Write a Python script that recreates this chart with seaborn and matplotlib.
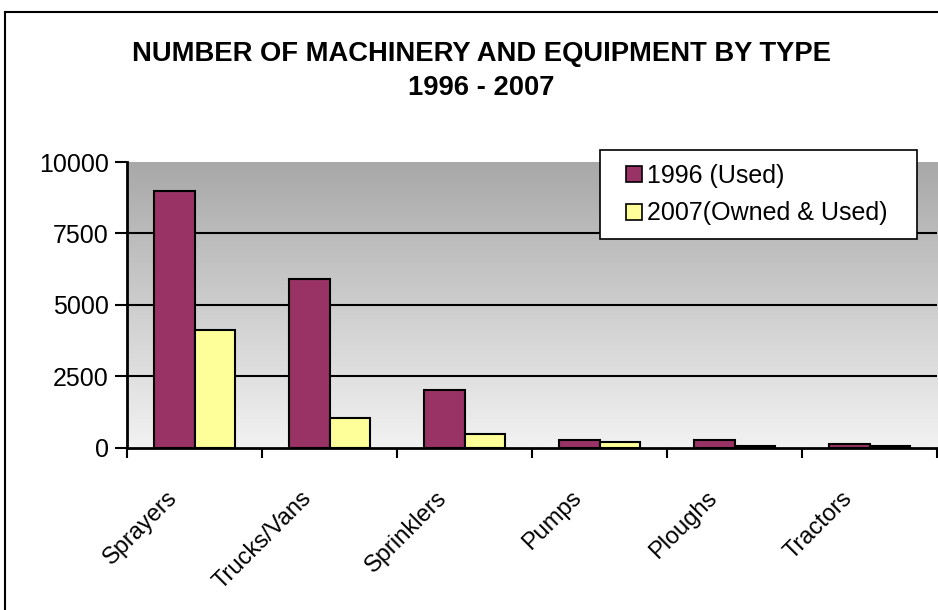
import numpy as np
import pandas as pd
import matplotlib
matplotlib.use("Agg")
import matplotlib.pyplot as plt
import matplotlib.transforms as mtransforms
from matplotlib.colors import LinearSegmentedColormap
from matplotlib.patches import Rectangle, Patch
from matplotlib.legend_handler import HandlerPatch
import seaborn as sns

categories = ["Sprayers", "Trucks/Vans", "Sprinklers", "Pumps", "Ploughs", "Tractors"]
series_names = ["1996 (Used)", "2007(Owned & Used)"]
values_1996 = [9000, 5900, 2000, 270, 270, 130]
values_2007 = [4100, 1030, 490, 200, 60, 50]
y_ticks = [0, 2500, 5000, 7500, 10000]
title_lines = ["NUMBER OF MACHINERY AND EQUIPMENT BY TYPE", "1996 - 2007"]

colors = ["#993366", "#FFFF99"]

df = pd.DataFrame({
    "type": categories * 2,
    "series": [series_names[0]] * len(categories) + [series_names[1]] * len(categories),
    "count": values_1996 + values_2007,
})

sns.set_theme(style="white")
plt.rcParams["font.family"] = ["Liberation Sans", "DejaVu Sans"]
plt.rcParams["text.color"] = "black"
plt.rcParams["xtick.color"] = "black"
plt.rcParams["ytick.color"] = "black"
plt.rcParams["axes.labelcolor"] = "black"

W, H = 938, 610
fig = plt.figure(figsize=(W / 100, H / 100), dpi=100)
fig.patch.set_facecolor("white")

# outer frame (only left/top visible)
fig.patches.append(Rectangle((5 / W, -0.2), 1.2, (1 - 12 / H) + 0.2,
                             transform=fig.transFigure, fill=False,
                             edgecolor="black", linewidth=1.5, zorder=0))

ax_left, ax_right = 127 / W, 937 / W
ax_bottom, ax_top = 1 - 447.5 / H, 1 - 162 / H
ax = fig.add_axes([ax_left, ax_bottom, ax_right - ax_left, ax_top - ax_bottom])

# gradient background
cmap = LinearSegmentedColormap.from_list("bg", ["#f2f2f2", "#a8a8a8"])
grad = np.linspace(0, 1, 256)[:, None]
ax.imshow(grad, extent=[0, 1, 0, 1], transform=ax.transAxes, cmap=cmap,
          aspect="auto", origin="lower", zorder=0)

sns.barplot(data=df, x="type", y="count", hue="series", palette=colors,
            width=0.6, saturation=1, edgecolor="black", linewidth=1.5,
            ax=ax, legend=False, zorder=3)

ax.set_xlim(-0.5, len(categories) - 0.5)
ax.set_ylim(0, 10000)
ax.set_yticks(y_ticks)
ax.set_yticklabels([str(v) for v in y_ticks], fontsize=18)
for v in y_ticks[1:-1]:
    ax.axhline(v, color="black", linewidth=1.5, zorder=1)

ax.set_xlabel("")
ax.set_ylabel("")
ax.set_xticks(range(len(categories)))
ax.set_xticklabels(categories, fontsize=17, rotation=45, ha="right",
                   va="center", rotation_mode="anchor")
ax.set_xticks(np.arange(-0.5, len(categories), 1), minor=True)
ax.tick_params(axis="x", which="major", length=0, pad=34)
ax.tick_params(axis="x", which="minor", length=7, width=1.5, color="black", direction="out", bottom=True)
ax.tick_params(axis="y", which="major", length=9, width=1.5, color="black", direction="out", left=True, pad=4)
offset = mtransforms.ScaledTranslation(-21 / 100, 0, fig.dpi_scale_trans)
for lab in ax.get_xticklabels():
    lab.set_transform(lab.get_transform() + offset)

for side in ["top", "right"]:
    ax.spines[side].set_visible(False)
for side in ["left", "bottom"]:
    ax.spines[side].set_visible(True)
    ax.spines[side].set_color("black")
    ax.spines[side].set_linewidth(2)
    ax.spines[side].set_zorder(5)


def square_patch(legend, orig_handle, xdescent, ydescent, width, height, fontsize):
    s = 16 * 72 / 100  # points
    return Rectangle((width - s - xdescent, -ydescent + (height - s) / 2), s, s)


handles = [Patch(facecolor=c, edgecolor="black", linewidth=1.2) for c in colors]
leg = fig.legend(handles, series_names, loc="upper left",
                 bbox_to_anchor=(600 / W, 1 - 230 / H, 317 / W, 80 / H),
                 mode="expand", fontsize=18,
                 frameon=True, fancybox=False, edgecolor="black",
                 framealpha=1, handlelength=1.12, handleheight=0.7,
                 handletextpad=0.2, labelspacing=0.55, borderpad=0.55,
                 borderaxespad=0,
                 handler_map={Patch: HandlerPatch(patch_func=square_patch)})
leg.get_frame().set_linewidth(1.2)

fig.text(481 / W, 1 - 61 / H, title_lines[0], ha="center", va="baseline",
         fontsize=19.7, fontweight="bold")
fig.text(481 / W, 1 - 95 / H, title_lines[1], ha="center", va="baseline",
         fontsize=19.7, fontweight="bold")

fig.savefig("out.png", dpi=100)
